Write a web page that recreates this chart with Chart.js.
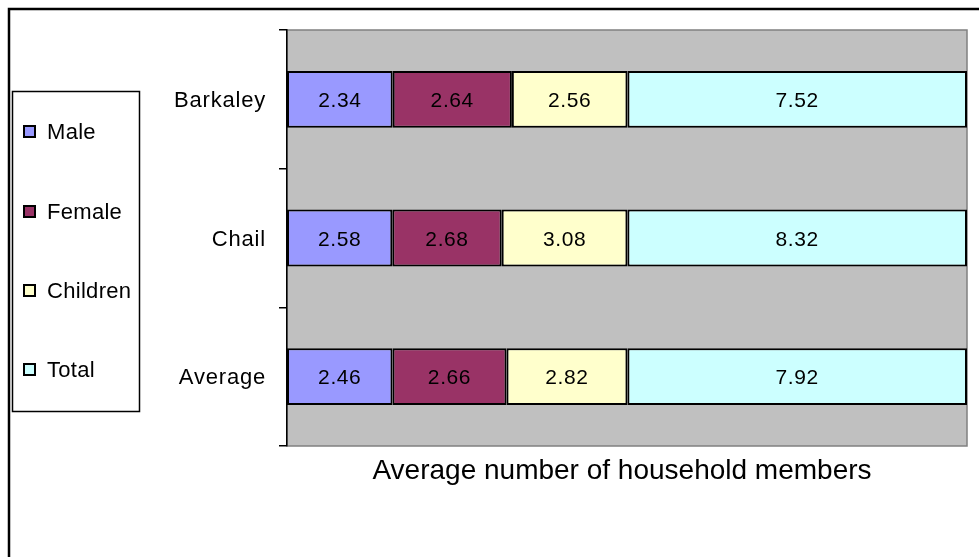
<!DOCTYPE html>
<html lang="en">
<head>
  <meta charset="UTF-8">
  <title>Average number of household members</title>
  <style>
    html, body { margin: 0; padding: 0; background: #fff; }
    #wrap { position: relative; width: 979px; height: 557px; }
  </style>
</head>
<body>
  <div id="wrap">
    <canvas id="myChart" width="979" height="557"></canvas>
  </div>

  <script src="https://cdnjs.cloudflare.com/ajax/libs/Chart.js/4.4.1/chart.umd.js"></script>
  <script>
    const places = ['Barkaley', 'Chail', 'Average'];
    const seriesNames = ['Male', 'Female', 'Children', 'Total'];
    const male = [2.34, 2.58, 2.46];
    const female = [2.64, 2.68, 2.66];
    const children = [2.56, 3.08, 2.82];
    const total = [7.52, 8.32, 7.92];
    const axisTitle = 'Average number of household members';

    const fills = ['#9999FF', '#993366', '#FFFFCC', '#CCFFFF'];
    const FONT = '"Liberation Sans", Arial, sans-serif';

    const raw = [male, female, children, total];
    // each row is shown as shares of its own sum (100% stacked)
    const rowSums = places.map((_, i) => raw.reduce((s, arr) => s + arr[i], 0));

    const datasets = raw.map((arr, k) => ({
      label: seriesNames[k],
      data: arr.map((v, i) => v / rowSums[i] * 100),
      values: arr,
      backgroundColor: fills[k],
      borderColor: '#000',
      borderWidth: 2,
      borderSkipped: false,
      barPercentage: 0.41,
      categoryPercentage: 1
    }));

    const frame = {
      id: 'frame',
      beforeDraw(chart) {
        const { ctx, chartArea: a } = chart;
        ctx.save();
        // outer frame
        ctx.strokeStyle = '#000';
        ctx.lineWidth = 2.5;
        ctx.strokeRect(9, 9, 1100, 1100);
        // plot area
        ctx.fillStyle = '#C0C0C0';
        ctx.fillRect(a.left, a.top, a.right - a.left, a.bottom - a.top);
        ctx.strokeStyle = '#808080';
        ctx.lineWidth = 1.5;
        ctx.strokeRect(a.left, a.top, a.right - a.left, a.bottom - a.top);
        ctx.restore();
      },
      afterDraw(chart) {
        const { ctx } = chart;
        const yScale = chart.scales.y;
        ctx.save();
        ctx.fillStyle = '#000';
        ctx.textBaseline = 'alphabetic';

        // category labels
        ctx.font = '22px ' + FONT;
        ctx.textAlign = 'right';
        ctx.letterSpacing = '0.8px';
        places.forEach((p, i) => {
          ctx.fillText(p, 266, yScale.getPixelForValue(i) + 7.5);
        });

        // values inside segments
        ctx.font = '21px ' + FONT;
        ctx.textAlign = 'center';
        ctx.letterSpacing = '0.6px';
        chart.data.datasets.forEach((ds, k) => {
          chart.getDatasetMeta(k).data.forEach((bar, i) => {
            const p = bar.getProps(['x', 'y', 'base'], true);
            ctx.fillText(ds.values[i].toFixed(2), (p.x + p.base) / 2, p.y + 7.5);
          });
        });

        // axis title
        ctx.font = '28px ' + FONT;
        ctx.letterSpacing = '0px';
        ctx.fillText(axisTitle, 622, 479);

        // legend
        ctx.strokeStyle = '#000';
        ctx.lineWidth = 1.5;
        ctx.fillStyle = '#fff';
        ctx.fillRect(12.5, 91.5, 127, 320);
        ctx.strokeRect(12.5, 91.5, 127, 320);
        const rows = [131, 211, 290, 369];
        ctx.font = '22px ' + FONT;
        ctx.letterSpacing = '0.3px';
        ctx.textAlign = 'left';
        ctx.lineWidth = 2;
        chart.data.datasets.forEach((ds, k) => {
          const y = rows[k];
          ctx.fillStyle = ds.backgroundColor;
          ctx.fillRect(24, y - 5, 11, 11);
          ctx.strokeRect(24, y - 5, 11, 11);
          ctx.fillStyle = '#000';
          ctx.fillText(ds.label, 47, y + 7.5);
        });
        ctx.restore();
      }
    };

    new Chart(document.getElementById('myChart'), {
      type: 'bar',
      data: { labels: places, datasets },
      options: {
        indexAxis: 'y',
        responsive: false,
        animation: false,
        layout: { padding: { top: 30, right: 12, bottom: 111, left: 0 } },
        plugins: { legend: { display: false }, tooltip: { enabled: false } },
        scales: {
          x: { stacked: true, min: 0, max: 100, display: false },
          y: {
            stacked: true,
            afterFit: s => { s.width = 287; },
            border: { color: '#000', width: 1.5 },
            grid: { color: '#000', drawOnChartArea: false, tickLength: 8, lineWidth: 1.5 },
            ticks: { display: false }
          }
        }
      },
      plugins: [frame]
    });
  </script>
</body>
</html>
